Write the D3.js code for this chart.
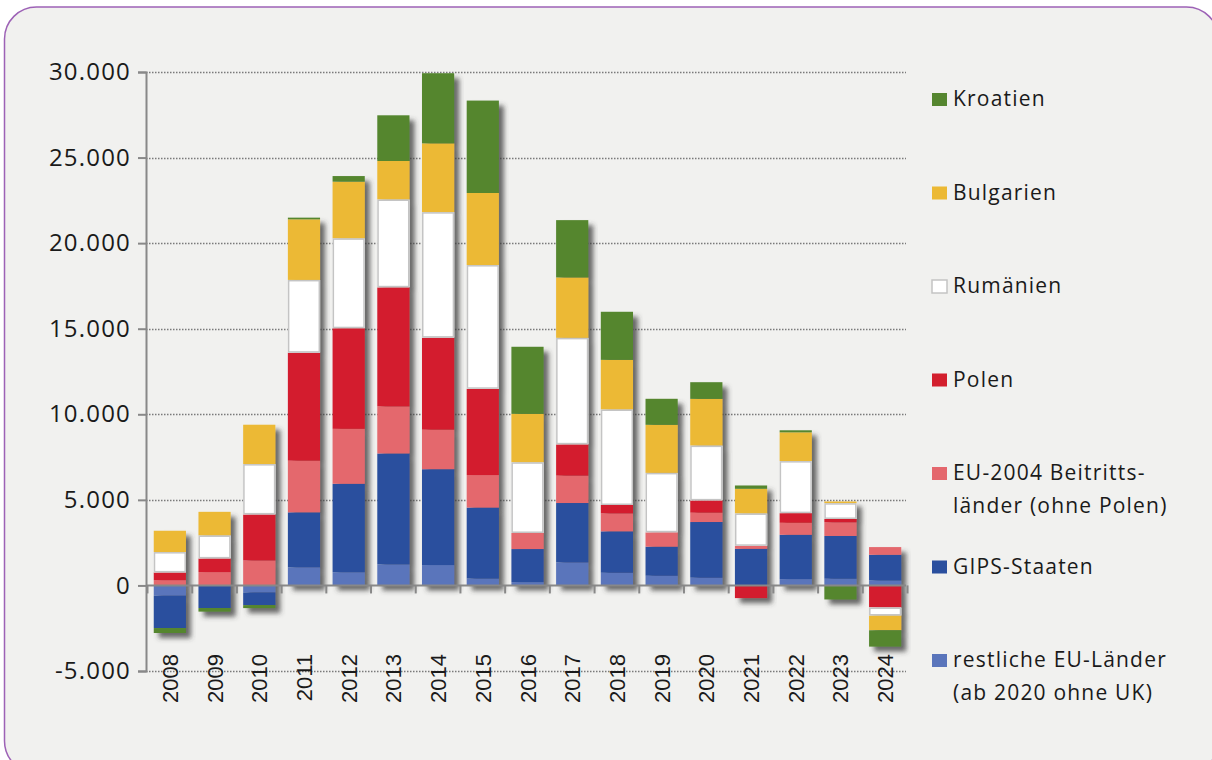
<!DOCTYPE html>
<html>
<head>
<meta charset="utf-8">
<script src="https://cdn.jsdelivr.net/npm/d3@7"></script>
<style>
  html, body { margin: 0; padding: 0; background: #ffffff; }
  svg { display: block; }
</style>
</head>
<body>
<svg id="chart" width="1212" height="760"></svg>
<script>
// ---- data (persons, net migration) ----
const years = ["2008","2009","2010","2011","2012","2013","2014","2015","2016","2017","2018","2019","2020","2021","2022","2023","2024"];
const restliche  = [-600,    0, -410, 1060,  770, 1230, 1190,  400,  195, 1345,  740,  565,  450,    0,  370,  390,  290];
const gips       = [-1890,-1320, -740, 3210, 5170, 6480, 5600, 4150, 1930, 3470, 2420, 1700, 3255, 2140, 2590, 2500, 1500];
const eu2004     = [ 310,  780, 1460, 3020, 3210, 2750, 2310, 1900,  940, 1600, 1050,  840,  545,  175,  700,  800,  450];
const polen      = [ 450,  800, 2690, 6310, 5880, 6960, 5380, 5040,    0, 1830,  490,    0,  720, -740,  565,  195, -1290];
const rumaenien  = [1190, 1340, 2940, 4250, 5250, 5130, 7330, 7230, 4130, 6220, 5580, 3470, 3200, 1890, 3040,  920, -470];
const bulgarien  = [1245, 1380, 2300, 3540, 3310, 2250, 4020, 4210, 2830, 3530, 2900, 2810, 2730, 1440, 1680,  100, -860];
const kroatien   = [-290, -210, -175,  100,  330, 2670, 4100, 5400, 3920, 3350, 2810, 1520,  975,  195,  120, -820, -955];

const seriesKeys   = ["restliche","gips","eu2004","polen","rumaenien","bulgarien","kroatien"];
const seriesValues = [restliche, gips, eu2004, polen, rumaenien, bulgarien, kroatien];
const seriesLabels = [
  ["restliche EU-Länder","(ab 2020 ohne UK)"],
  ["GIPS-Staaten"],
  ["EU-2004 Beitritts-","länder (ohne Polen)"],
  ["Polen"],
  ["Rumänien"],
  ["Bulgarien"],
  ["Kroatien"]
];
const seriesColors = ["#5a75bb","#2a4f9e","#e4676d","#d31f2d","#ffffff","#ecb934","#55862f"];
const yTicks = [-5000, 0, 5000, 10000, 15000, 20000, 25000, 30000];

// ---- build table ----
const table = years.map((y, i) => {
  const row = { year: y };
  seriesKeys.forEach((k, s) => row[k] = seriesValues[s][i]);
  return row;
});
const stacked = d3.stack().keys(seriesKeys).offset(d3.stackOffsetDiverging)(table);

// ---- layout ----
const svg = d3.select("#chart");
const W = 1212, H = 760;
const x = d3.scaleBand().domain(years).range([147.5, 907.5]).paddingInner(0.28).paddingOuter(0.14);
const y = d3.scaleLinear().domain([-5000, 30000]).range([671, 72]);
const loc = d3.formatLocale({decimal: ",", thousands: ".", grouping: [3], currency: ["", ""], minus: "-"});
const fmt = loc.format(",d");
const textFont = "'Open Sans', 'Noto Sans', sans-serif";

// defs: shadow
const defs = svg.append("defs");
const f = defs.append("filter").attr("id", "shadow").attr("x", "-20%").attr("y", "-20%").attr("width", "150%").attr("height", "150%");
f.append("feGaussianBlur").attr("in", "SourceAlpha").attr("stdDeviation", 2.6).attr("result", "b");
f.append("feOffset").attr("in", "b").attr("dx", 5).attr("dy", 5).attr("result", "o");
f.append("feFlood").attr("flood-color", "#3a3a3a").attr("flood-opacity", 0.75).attr("result", "c");
f.append("feComposite").attr("in", "c").attr("in2", "o").attr("operator", "in").attr("result", "s");
const m = f.append("feMerge");
m.append("feMergeNode").attr("in", "s");
m.append("feMergeNode").attr("in", "SourceGraphic");

// background panel
svg.append("rect").attr("x", 0).attr("y", 0).attr("width", W).attr("height", H).attr("fill", "#ffffff");
svg.append("rect").attr("x", 4.5).attr("y", 7).attr("width", 1214).attr("height", 766)
  .attr("rx", 32).attr("ry", 32).attr("fill", "#f1f1ef").attr("stroke", "#9d62b6").attr("stroke-width", 1.5);

// gridlines (dotted)
const gridX0 = 146, gridX1 = 906;
svg.append("g").selectAll("line").data(yTicks.filter(t => t !== 0)).join("line")
  .attr("x1", gridX0).attr("x2", gridX1)
  .attr("y1", d => Math.round(y(d)) + 0.5).attr("y2", d => Math.round(y(d)) + 0.5)
  .attr("stroke", "#7a7a7a").attr("stroke-width", 1.3).attr("stroke-dasharray", "1.5,1.5");

// bars, grouped per year so each bar casts one shadow
const barsG = svg.append("g");
years.forEach((yr, i) => {
  const g = barsG.append("g").attr("filter", "url(#shadow)");
  stacked.forEach((ser, s) => {
    const d = ser[i];
    const h = Math.abs(y(d[0]) - y(d[1]));
    if (h < 0.01) return;
    g.append("rect")
      .attr("x", x(yr))
      .attr("y", Math.min(y(d[0]), y(d[1])))
      .attr("width", x.bandwidth())
      .attr("height", h)
      .attr("fill", seriesColors[s]);
  });
  // white segments get a light grey outline
  stacked.forEach((ser, s) => {
    if (seriesKeys[s] !== "rumaenien") return;
    const d = ser[i];
    const h = Math.abs(y(d[0]) - y(d[1]));
    if (h < 0.01) return;
    g.append("rect")
      .attr("x", x(yr) + 0.75)
      .attr("y", Math.min(y(d[0]), y(d[1])) + 0.75)
      .attr("width", x.bandwidth() - 1.5)
      .attr("height", Math.max(0, h - 1.5))
      .attr("fill", "none")
      .attr("stroke", "#c4c4c4").attr("stroke-width", 1.5);
  });
});

// y axis
const yAxis = d3.axisLeft(y).tickValues(yTicks).tickFormat(fmt).tickSize(8).tickPadding(7);
const ya = svg.append("g").attr("transform", "translate(146,0)").call(yAxis);
ya.select(".domain").attr("stroke", "#888").attr("stroke-width", 2);
ya.selectAll(".tick line").attr("stroke", "#888").attr("stroke-width", 2);
ya.selectAll(".tick text").attr("fill", "#1a1a1a").style("font-family", textFont)
  .style("font-size", "24px").style("letter-spacing", "1.2px");

// zero axis with ticks at band boundaries
const step = x.step();
const bounds = d3.range(years.length + 1).map(i => x(years[0]) - x.paddingInner() * step / 2 + i * step);
svg.append("line").attr("x1", 146).attr("x2", 906).attr("y1", y(0)).attr("y2", y(0))
  .attr("stroke", "#888").attr("stroke-width", 2);
svg.append("g").selectAll("line").data(bounds).join("line")
  .attr("x1", d => d).attr("x2", d => d).attr("y1", y(0)).attr("y2", y(0) + 8)
  .attr("stroke", "#888").attr("stroke-width", 2);

// year labels (rotated)
svg.append("g").selectAll("text").data(years).join("text")
  .attr("transform", d => `translate(${x(d) + x.bandwidth() / 2 + 8},654) rotate(-90)`)
  .attr("text-anchor", "end")
  .attr("fill", "#1a1a1a")
  .style("font-family", "'Liberation Sans', Arial, sans-serif")
  .style("font-size", "22px")
  .text(d => d);

// legend (top to bottom: reverse of stacking order)
const legendOrder = d3.range(seriesKeys.length).reverse();
const lg = svg.append("g");
legendOrder.forEach((s, k) => {
  const cy = 99 + k * 93.5;
  lg.append("rect").attr("x", 932).attr("y", cy - 6).attr("width", 15).attr("height", 13)
    .attr("fill", seriesColors[s])
    .attr("stroke", seriesKeys[s] === "rumaenien" ? "#c4c4c4" : "none").attr("stroke-width", 1.5);
  seriesLabels[s].forEach((line, li) => {
    lg.append("text").attr("x", 953).attr("y", cy + li * 32.5).attr("dy", "0.35em")
      .attr("fill", "#1a1a1a")
      .style("font-family", textFont).style("font-size", "21px").style("letter-spacing", "1.2px")
      .text(line);
  });
});
</script>
</body>
</html>
